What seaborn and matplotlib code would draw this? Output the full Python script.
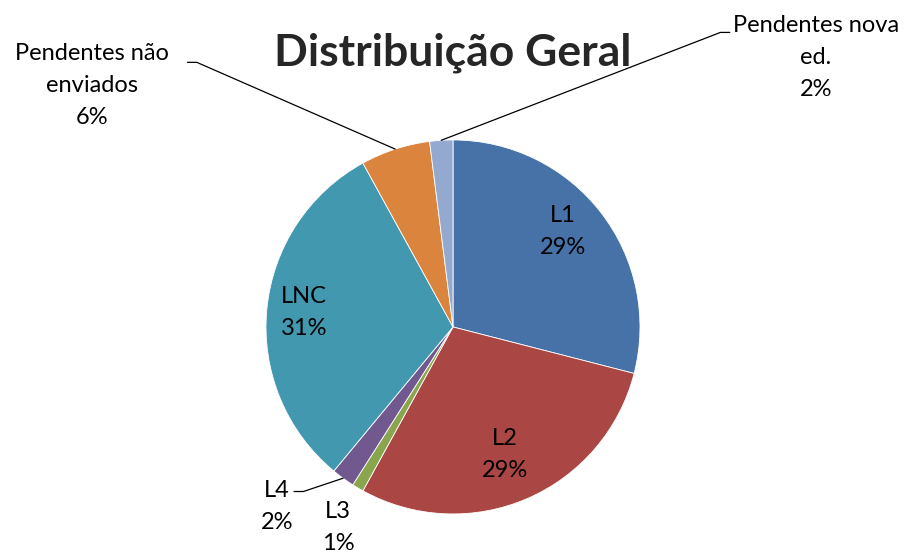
import numpy as np
import seaborn as sns
import matplotlib.pyplot as plt

categorias = ["L1", "L2", "L3", "L4", "LNC", "Pendentes não enviados", "Pendentes nova ed."]
rotulos = ["L1", "L2", "L3", "L4", "LNC", "Pendentes não\nenviados", "Pendentes nova\ned."]
percentuais = [29, 29, 1, 2, 31, 6, 2]
cores = ["#4672A8", "#AA4643", "#89A54E", "#71588F", "#4198AF", "#DB843D", "#93A9CF"]

sns.set_theme(style="white")
plt.rcParams["font.family"] = ["Lato", "DejaVu Sans"]

fig = plt.figure(figsize=(9.1, 5.55), dpi=100)
ax = fig.add_axes([0.2923, 0.0739, 0.411, 0.674])
wedges, _ = ax.pie(percentuais, colors=cores, startangle=90, counterclock=False,
                   wedgeprops=dict(edgecolor="white", linewidth=0.6))
ax.set_xlim(-1, 1)
ax.set_ylim(-1, 1)
ax.set_aspect("equal")

fs = 17
esp = 1.65
# rótulos internos
internos = {"L1": (0.588, 0.508), "L2": (0.278, -0.684), "LNC": (-0.797, 0.075)}
# rótulos externos com linha de chamada: posição do texto, ponto do cotovelo
externos = {
    "L3": ((-0.615, -1.07), None),
    "L4": ((-0.94, -0.96), (-0.80, -0.88)),
    "Pendentes não enviados": ((-1.93, 1.29), (-1.37, 1.415)),
    "Pendentes nova ed.": ((1.94, 1.44), (1.43, 1.575)),
}

for w, cat, rot, p in zip(wedges, categorias, rotulos, percentuais):
    texto = f"{rot}\n{p}%"
    if cat in internos:
        x, y = internos[cat]
        ax.text(x, y, texto, ha="center", va="center", fontsize=fs,
                linespacing=esp, color="black")
    else:
        (x, y), cotovelo = externos[cat]
        ax.text(x, y, texto, ha="center", va="center", fontsize=fs,
                linespacing=esp, color="black", clip_on=False)
        if cotovelo is not None:
            ang = np.deg2rad((w.theta1 + w.theta2) / 2)
            px, py = np.cos(ang), np.sin(ang)
            ex, ey = cotovelo
            lado = -1 if ex < 0 else 1
            ax.plot([ex + lado * 0.05, ex, px], [ey, ey, py], color="black",
                    lw=0.9, clip_on=False)

fig.text(0.497, 0.905, "Distribuição Geral", ha="center", va="center",
         fontsize=32, fontweight="bold")

fig.savefig("out.png", dpi=100, facecolor="white")
